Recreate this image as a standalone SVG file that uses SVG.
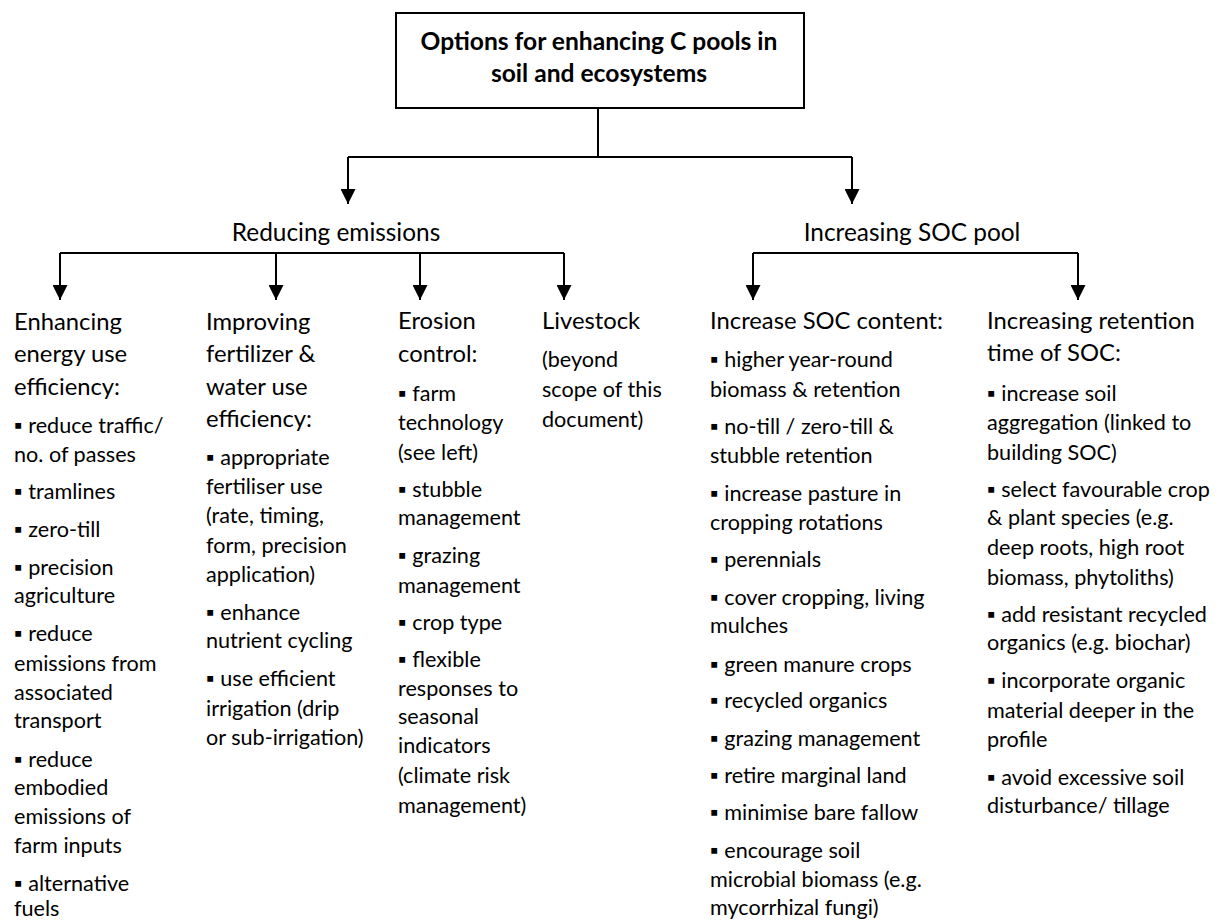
<svg xmlns="http://www.w3.org/2000/svg" width="1232" height="920" viewBox="0 0 1232 920">
<defs>
<style>
text{font-family:Lato,"Liberation Sans",sans-serif;fill:#000}
.t{font-size:24.6px;font-weight:bold;text-anchor:middle}
.l1{font-size:24.4px;text-anchor:middle}
.h{font-size:23.8px}
.b{font-size:21.6px}
.ln{stroke:#000;stroke-width:2;fill:none}
</style>
<marker id="ah" markerWidth="15" markerHeight="15" viewBox="0 0 15 15" refX="15" refY="7.5" orient="auto" markerUnits="userSpaceOnUse">
<path d="M0,0 L15,7.5 L0,15 Z" fill="#000"/>
</marker>
</defs>
<rect width="1232" height="920" fill="#fff"/>
<g id="connectors" class="ln">
<path d="M598,108 V157"/>
<path d="M348,157 H852"/>
<path d="M348,157 V204" marker-end="url(#ah)"/>
<path d="M852,157 V204" marker-end="url(#ah)"/>
<path d="M60,253 H564"/>
<path d="M60,253 V300" marker-end="url(#ah)"/>
<path d="M276,253 V300" marker-end="url(#ah)"/>
<path d="M420,253 V300" marker-end="url(#ah)"/>
<path d="M564,253 V300" marker-end="url(#ah)"/>
<path d="M753,253 H1078"/>
<path d="M753,253 V300" marker-end="url(#ah)"/>
<path d="M1078,253 V300" marker-end="url(#ah)"/>
</g>
<g id="root">
<rect x="396" y="13" width="408" height="95" fill="#fff" stroke="#000" stroke-width="2"/>
<text class="t" x="599" y="50">Options for enhancing C pools in</text>
<text class="t" x="599" y="82">soil and ecosystems</text>
</g>
<g id="reducing">
<text class="l1" x="336" y="241">Reducing emissions</text>
</g>
<g id="increasing">
<text class="l1" x="912" y="241">Increasing SOC pool</text>
</g>
<g id="energy">
<text class="h" x="14" y="330">Enhancing</text>
<text class="h" x="14" y="362">energy use</text>
<text class="h" x="14" y="395">efficiency:</text>
<text class="b" x="14" y="433">▪ reduce traffic/</text>
<text class="b" x="14" y="462">no. of passes</text>
<text class="b" x="14" y="499">▪ tramlines</text>
<text class="b" x="14" y="537">▪ zero-till</text>
<text class="b" x="14" y="575">▪ precision</text>
<text class="b" x="14" y="603">agriculture</text>
<text class="b" x="14" y="641">▪ reduce</text>
<text class="b" x="14" y="671">emissions from</text>
<text class="b" x="14" y="700">associated</text>
<text class="b" x="14" y="728">transport</text>
<text class="b" x="14" y="767">▪ reduce</text>
<text class="b" x="14" y="795">embodied</text>
<text class="b" x="14" y="824">emissions of</text>
<text class="b" x="14" y="853">farm inputs</text>
<text class="b" x="14" y="891">▪ alternative</text>
<text class="b" x="14" y="916">fuels</text>
</g>
<g id="fertilizer">
<text class="h" x="206" y="330">Improving</text>
<text class="h" x="206" y="362">fertilizer &amp;</text>
<text class="h" x="206" y="395">water use</text>
<text class="h" x="206" y="427">efficiency:</text>
<text class="b" x="206" y="465">▪ appropriate</text>
<text class="b" x="206" y="494">fertiliser use</text>
<text class="b" x="206" y="523">(rate, timing,</text>
<text class="b" x="206" y="553">form, precision</text>
<text class="b" x="206" y="582">application)</text>
<text class="b" x="206" y="620">▪ enhance</text>
<text class="b" x="206" y="648">nutrient cycling</text>
<text class="b" x="206" y="686">▪ use efficient</text>
<text class="b" x="206" y="716">irrigation (drip</text>
<text class="b" x="206" y="745">or sub-irrigation)</text>
</g>
<g id="erosion">
<text class="h" x="398" y="329">Erosion</text>
<text class="h" x="398" y="362">control:</text>
<text class="b" x="398" y="401">▪ farm</text>
<text class="b" x="398" y="430">technology</text>
<text class="b" x="398" y="460">(see left)</text>
<text class="b" x="398" y="497">▪ stubble</text>
<text class="b" x="398" y="525">management</text>
<text class="b" x="398" y="563">▪ grazing</text>
<text class="b" x="398" y="593">management</text>
<text class="b" x="398" y="630">▪ crop type</text>
<text class="b" x="398" y="667">▪ flexible</text>
<text class="b" x="398" y="696">responses to</text>
<text class="b" x="398" y="724">seasonal</text>
<text class="b" x="398" y="753">indicators</text>
<text class="b" x="398" y="783">(climate risk</text>
<text class="b" x="398" y="813">management)</text>
</g>
<g id="livestock">
<text class="h" x="542" y="329">Livestock</text>
<text class="b" x="542" y="367">(beyond</text>
<text class="b" x="542" y="397">scope of this</text>
<text class="b" x="542" y="427">document)</text>
</g>
<g id="soc-content">
<text class="h" x="710" y="329">Increase SOC content:</text>
<text class="b" x="710" y="367">▪ higher year-round</text>
<text class="b" x="710" y="397">biomass &amp; retention</text>
<text class="b" x="710" y="434">▪ no-till / zero-till &amp;</text>
<text class="b" x="710" y="463">stubble retention</text>
<text class="b" x="710" y="501">▪ increase pasture in</text>
<text class="b" x="710" y="530">cropping rotations</text>
<text class="b" x="710" y="567">▪ perennials</text>
<text class="b" x="710" y="605">▪ cover cropping, living</text>
<text class="b" x="710" y="633">mulches</text>
<text class="b" x="710" y="672">▪ green manure crops</text>
<text class="b" x="710" y="708">▪ recycled organics</text>
<text class="b" x="710" y="746">▪ grazing management</text>
<text class="b" x="710" y="783">▪ retire marginal land</text>
<text class="b" x="710" y="820">▪ minimise bare fallow</text>
<text class="b" x="710" y="858">▪ encourage soil</text>
<text class="b" x="710" y="887">microbial biomass (e.g.</text>
<text class="b" x="710" y="915">mycorrhizal fungi)</text>
</g>
<g id="retention">
<text class="h" x="987" y="329">Increasing retention</text>
<text class="h" x="987" y="361">time of SOC:</text>
<text class="b" x="987" y="401">▪ increase soil</text>
<text class="b" x="987" y="430">aggregation (linked to</text>
<text class="b" x="987" y="460">building SOC)</text>
<text class="b" x="987" y="497">▪ select favourable crop</text>
<text class="b" x="987" y="525">&amp; plant species (e.g.</text>
<text class="b" x="987" y="555">deep roots, high root</text>
<text class="b" x="987" y="585">biomass, phytoliths)</text>
<text class="b" x="987" y="622">▪ add resistant recycled</text>
<text class="b" x="987" y="650">organics (e.g. biochar)</text>
<text class="b" x="987" y="688">▪ incorporate organic</text>
<text class="b" x="987" y="718">material deeper in the</text>
<text class="b" x="987" y="747">profile</text>
<text class="b" x="987" y="785">▪ avoid excessive soil</text>
<text class="b" x="987" y="813">disturbance/ tillage</text>
</g>
</svg>
